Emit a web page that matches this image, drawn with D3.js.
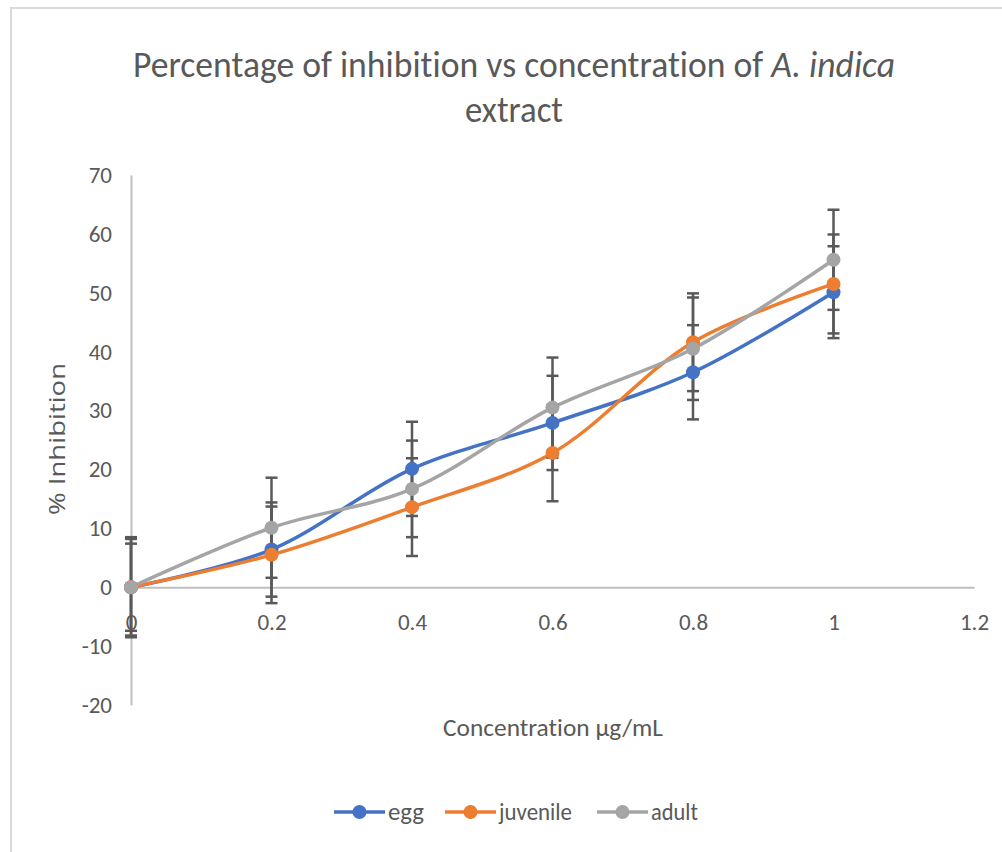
<!DOCTYPE html>
<html>
<head>
<meta charset="utf-8">
<script src="https://cdn.jsdelivr.net/npm/d3@7"></script>
<style>
  body { margin: 0; background: #fff; }
  svg text { fill: #595959; font-variant-ligatures: none; }
</style>
</head>
<body>
<svg id="chart" width="1002" height="852"></svg>
<script>
// data
var concentrations = [0, 0.2, 0.4, 0.6, 0.8, 1];
var seriesNames = ["egg", "juvenile", "adult"];
var eggValues = [0, 6.4, 20.1, 27.9, 36.5, 50.1];
var juvenileValues = [0, 5.5, 13.6, 22.8, 41.6, 51.5];
var adultValues = [0, 10.1, 16.7, 30.5, 40.5, 55.6];
var eggErrors = [8.2, 8, 8, 8, 8, 7.8];
var juvenileErrors = [7.4, 8.2, 8.3, 8.2, 8.3, 8.4];
var adultErrors = [8.5, 8.5, 8.2, 8.5, 8.7, 8.5];
var xTicks = [0, 0.2, 0.4, 0.6, 0.8, 1, 1.2];
var yTicks = [-20, -10, 0, 10, 20, 30, 40, 50, 60, 70];

var colors = { egg: "#4472C4", juvenile: "#ED7D31", adult: "#A5A5A5" };
var narrow = "Carlito, 'Liberation Sans Narrow', 'Liberation Sans', Arial, sans-serif";

var svg = d3.select("#chart");

// outer chart border
svg.append("path")
    .attr("d", "M11,852 V8 H1002")
    .attr("fill", "none")
    .attr("stroke", "#d9d9d9")
    .attr("stroke-width", 2);

var x = d3.scaleLinear().domain([0, 1.2]).range([131, 974]);
var y = d3.scaleLinear().domain([-20, 70]).range([705, 175]);

// y axis
var yAxis = svg.append("g")
    .attr("transform", "translate(" + x(0) + ",0)")
    .call(d3.axisLeft(y).tickValues(yTicks).tickSize(0).tickPadding(19)
      .tickFormat(function(d) { return String(d); }));
yAxis.select(".domain").attr("stroke", "#bfbfbf").attr("stroke-width", 2);
yAxis.selectAll(".tick text")
    .style("font-family", narrow)
    .style("font-size", "23px")
    .attr("fill", "#595959");

// x axis at zero
var xAxis = svg.append("g")
    .attr("transform", "translate(0," + y(0) + ")")
    .call(d3.axisBottom(x).tickValues(xTicks).tickSize(0).tickPadding(26)
      .tickFormat(function(d) { return String(+d.toFixed(1)); }));
xAxis.select(".domain").attr("stroke", "#bfbfbf").attr("stroke-width", 2);
xAxis.selectAll(".tick text")
    .style("font-family", narrow)
    .style("font-size", "23px")
    .attr("fill", "#595959");

var series = [
  { name: "egg", values: eggValues, errors: eggErrors },
  { name: "juvenile", values: juvenileValues, errors: juvenileErrors },
  { name: "adult", values: adultValues, errors: adultErrors }
].map(function(s) {
  s.points = concentrations.map(function(c, i) {
    return { x: c, y: s.values[i], e: s.errors[i] };
  });
  return s;
});

var line = d3.line()
    .x(function(d) { return x(d.x); })
    .y(function(d) { return y(d.y); })
    .curve(d3.curveCatmullRom.alpha(0.5));

// lines
svg.append("g").selectAll("path")
    .data(series)
    .enter().append("path")
      .attr("d", function(d) { return line(d.points); })
      .attr("fill", "none")
      .attr("stroke", function(d) { return colors[d.name]; })
      .attr("stroke-width", 3.5)
      .attr("stroke-linecap", "round");

// error bars
var bars = svg.append("g")
    .attr("stroke", "#595959")
    .attr("stroke-width", 2.5)
  .selectAll("g")
  .data(series)
  .enter().append("g")
  .selectAll("g")
  .data(function(d) { return d.points; })
  .enter().append("g");

bars.append("line")
    .attr("x1", function(d) { return x(d.x); })
    .attr("x2", function(d) { return x(d.x); })
    .attr("y1", function(d) { return y(d.y + d.e); })
    .attr("y2", function(d) { return y(d.y - d.e); });
bars.append("line")
    .attr("x1", function(d) { return x(d.x) - 6; })
    .attr("x2", function(d) { return x(d.x) + 6; })
    .attr("y1", function(d) { return y(d.y + d.e); })
    .attr("y2", function(d) { return y(d.y + d.e); });
bars.append("line")
    .attr("x1", function(d) { return x(d.x) - 6; })
    .attr("x2", function(d) { return x(d.x) + 6; })
    .attr("y1", function(d) { return y(d.y - d.e); })
    .attr("y2", function(d) { return y(d.y - d.e); });

// markers
svg.append("g").selectAll("g")
    .data(series)
    .enter().append("g")
      .attr("fill", function(d) { return colors[d.name]; })
    .selectAll("circle")
    .data(function(d) { return d.points; })
    .enter().append("circle")
      .attr("cx", function(d) { return x(d.x); })
      .attr("cy", function(d) { return y(d.y); })
      .attr("r", 7);

// title
var title = svg.append("text")
    .attr("x", 514)
    .attr("y", 77)
    .attr("text-anchor", "middle")
    .style("font-family", narrow)
    .style("font-size", "36px")
    .attr("textLength", 762)
    .attr("lengthAdjust", "spacingAndGlyphs");
title.append("tspan").text("Percentage of inhibition vs concentration of ");
title.append("tspan").style("font-style", "italic").text("A. indica");

svg.append("text")
    .attr("x", 514)
    .attr("y", 122)
    .attr("text-anchor", "middle")
    .style("font-family", narrow)
    .style("font-size", "36px")
    .attr("textLength", 98)
    .attr("lengthAdjust", "spacingAndGlyphs")
    .text("extract");

// axis titles
svg.append("text")
    .attr("transform", "translate(65,439) rotate(-90)")
    .attr("text-anchor", "middle")
    .style("font-family", "'Open Sans', sans-serif")
    .style("font-size", "21px")
    .attr("textLength", 152)
    .attr("lengthAdjust", "spacingAndGlyphs")
    .text("% Inhibition");

svg.append("text")
    .attr("x", 553)
    .attr("y", 736)
    .attr("text-anchor", "middle")
    .style("font-family", narrow)
    .style("font-size", "25px")
    .attr("textLength", 220)
    .attr("lengthAdjust", "spacingAndGlyphs")
    .text("Concentration µg/mL");

// legend
var legendX = [334, 445, 597];
var legendTextLen = [36, 73, 47];
var legend = svg.append("g")
  .selectAll("g")
  .data(seriesNames)
  .enter().append("g")
    .attr("transform", function(d, i) { return "translate(" + legendX[i] + ",812)"; });

legend.append("line")
    .attr("x1", 0).attr("x2", 51)
    .attr("stroke", function(d) { return colors[d]; })
    .attr("stroke-width", 3.5);
legend.append("circle")
    .attr("cx", 25.5)
    .attr("r", 7)
    .attr("fill", function(d) { return colors[d]; });
legend.append("text")
    .attr("x", 54)
    .attr("y", 8)
    .style("font-family", narrow)
    .style("font-size", "24px")
    .attr("textLength", function(d, i) { return legendTextLen[i]; })
    .attr("lengthAdjust", "spacingAndGlyphs")
    .text(function(d) { return d; });
</script>
</body>
</html>
